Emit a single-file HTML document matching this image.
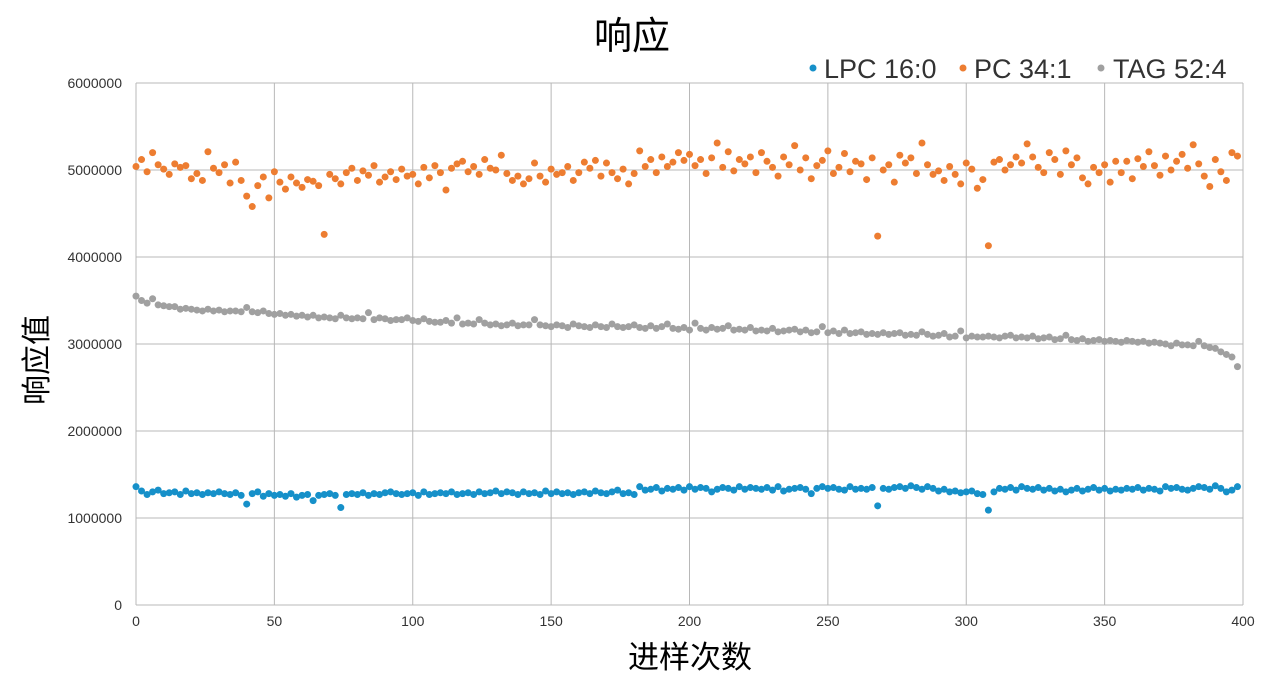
<!DOCTYPE html>
<html><head><meta charset="utf-8"><style>
body{margin:0;background:#fff;}
svg text{font-family:"Liberation Sans","Noto Sans CJK SC",sans-serif;}
</style></head><body>
<svg id="chart" width="1280" height="692" xmlns="http://www.w3.org/2000/svg">
<text x="632" y="49" font-size="38" text-anchor="middle" fill="#000">响应</text>
<g id="grid"></g>
<g id="ticks"></g>
<g id="marks"></g>
<text transform="translate(47,360) rotate(-90)" font-size="30" text-anchor="middle" fill="#000">响应值</text>
<text x="690" y="668" font-size="31" text-anchor="middle" fill="#000">进样次数</text>
<g>
<g><circle cx="813" cy="68" r="3.5" fill="#1690c9"/><text x="824" y="78" font-size="27" fill="#333">LPC 16:0</text></g>
<g><circle cx="963" cy="68" r="3.5" fill="#ed7d31"/><text x="974" y="78" font-size="27" fill="#333">PC 34:1</text></g>
<g><circle cx="1101" cy="68" r="3.5" fill="#a0a0a0"/><text x="1113" y="78" font-size="27" fill="#333">TAG 52:4</text></g>
</g>
</svg>
<script>
const xTicks=[0,50,100,150,200,250,300,350,400];
const yTicks=[0,1000000,2000000,3000000,4000000,5000000,6000000];
const xStep=2;
const pcVals=[504,512,498,520,506,501,495,507,503,505,490,496,488,521,502,497,506,485,509,488,
470,458,482,492,468,498,486,478,492,485,480,489,487,482,426,495,490,484,497,502,
488,499,494,505,486,492,498,489,501,493,495,484,503,491,505,497,477,502,507,510,
498,504,495,512,502,500,517,496,488,493,484,490,508,493,486,501,495,497,504,488,
497,509,502,511,493,508,497,490,501,484,496,522,504,512,497,515,504,509,520,511,
518,505,512,496,514,531,503,521,499,512,507,515,497,520,510,503,493,515,506,528,
500,514,490,505,511,522,496,503,519,498,510,507,489,514,424,500,506,486,517,508,
514,496,531,506,495,499,488,504,495,484,508,501,479,489,413,509,512,500,506,515,
508,530,515,503,497,520,512,495,522,506,514,491,484,503,497,506,486,510,497,510,
490,513,504,521,505,494,516,500,510,518,502,529,507,493,481,512,498,488,520,516];
const tagVals=[355,350,347,352,345,344,343,343,340,341,340,339,338,340,338,339,337,338,338,337,
342,337,336,338,335,334,335,333,334,332,333,331,333,330,331,330,329,333,330,329,
330,329,336,328,330,329,327,328,328,330,327,326,329,326,325,325,327,324,330,323,
324,323,328,324,322,323,321,322,324,321,322,322,328,322,321,320,322,321,319,323,
321,320,319,322,320,319,323,320,319,320,322,319,318,321,318,320,323,318,317,319,
316,324,318,316,319,317,318,321,316,317,316,319,315,316,315,318,314,315,316,317,
314,316,313,314,320,313,315,312,316,312,313,314,311,312,311,313,311,312,313,310,
311,310,314,311,309,310,312,308,309,315,307,309,308,308,309,308,307,309,310,307,
308,307,309,306,307,308,305,306,310,305,304,306,303,304,305,303,304,303,302,304,
303,302,303,301,302,301,300,298,301,299,299,298,303,298,296,295,291,288,285,274];
const lpcVals=[136,131,127,130,132,128,129,130,127,131,128,129,127,129,128,130,128,127,129,126,
116,128,130,125,128,126,127,125,128,124,126,127,120,126,127,128,126,112,127,128,
127,129,126,128,127,129,130,128,127,128,129,126,130,127,128,129,128,130,127,128,
129,127,130,128,129,131,128,130,129,127,130,128,129,127,131,128,130,128,129,127,
129,130,128,131,129,128,130,132,128,129,127,136,132,133,135,131,134,133,135,132,
136,133,135,134,130,133,135,134,132,136,133,135,134,133,135,132,136,131,133,134,
135,133,128,134,136,134,135,133,132,136,133,134,133,135,114,134,133,135,136,134,
137,135,133,136,134,131,133,130,131,129,130,131,128,127,109,130,134,133,135,132,
136,134,133,135,132,134,131,133,130,132,134,131,133,135,132,134,131,133,132,134,
133,135,132,134,133,131,136,134,135,133,132,134,136,135,133,137,134,130,132,136];
const valueUnit=10000;
const L=136,R=1243,T=83,B=605;
const sx=v=>L+(v/400)*(R-L);
const sy=v=>B-(v/6000000)*(B-T);
const NS="http://www.w3.org/2000/svg";
const grid=document.getElementById('grid'),ticks=document.getElementById('ticks'),marks=document.getElementById('marks');
function mk(tag,attrs,parent){const e=document.createElementNS(NS,tag);for(const k in attrs)e.setAttribute(k,attrs[k]);parent.appendChild(e);return e;}
yTicks.forEach(v=>{
 const l=mk('line',{x1:L,x2:R,y1:sy(v),y2:sy(v),stroke:'#b8b8b8','stroke-width':1},grid);
 
 
 const t=mk('text',{x:122,y:sy(v)+5,'font-size':14,'text-anchor':'end',fill:'#333'},ticks);
 t.textContent=v;
 
 
});
xTicks.forEach(v=>{
 const l=mk('line',{x1:sx(v),x2:sx(v),y1:T,y2:B,stroke:'#b8b8b8','stroke-width':1},grid);
 
 
 const t=mk('text',{x:sx(v),y:626,'font-size':14,'text-anchor':'middle',fill:'#333'},ticks);
 t.textContent=v;
 
 
});
function series(vals,color,name){
 vals.forEach((v,i)=>{
  const c=mk('circle',{cx:sx(i*xStep),cy:sy(v*valueUnit),r:3.5,fill:color},marks);
  
  
 });
}
series(tagVals,'#a0a0a0','point-tag-52-4');
series(pcVals,'#ed7d31','point-pc-34-1');
series(lpcVals,'#1690c9','point-lpc-16-0');
</script>
</body></html>
